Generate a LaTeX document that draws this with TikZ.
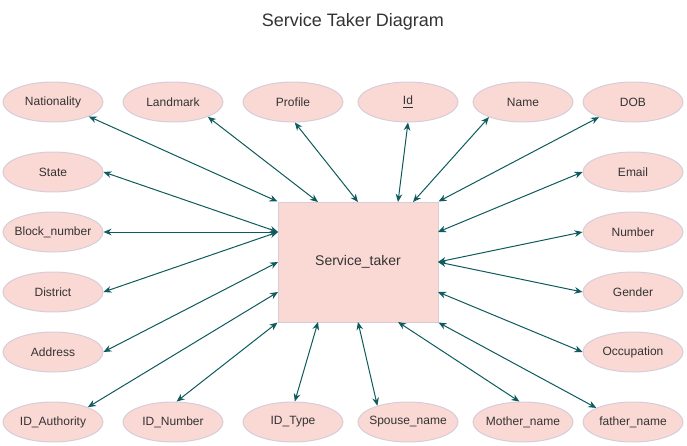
\documentclass[tikz,border=0pt]{standalone}
\usepackage{fontspec}
\setmainfont{Liberation Sans}
\usetikzlibrary{shapes.geometric,arrows.meta}
\definecolor{attrfill}{HTML}{FAD9D5}
\definecolor{attrline}{HTML}{D6CDD8}
\definecolor{conn}{HTML}{0E5A5C}
\definecolor{txt}{HTML}{333333}
\begin{document}
\begin{tikzpicture}[x=0.75pt,y=-0.75pt,
  attr/.style={ellipse, draw=attrline, fill=attrfill, line width=0.75pt,
    minimum width=75pt, minimum height=30pt, inner sep=0pt,
    font=\fontsize{9}{11}\selectfont, text=txt,
    execute at begin node={\hbox to 0pt\bgroup\hss},
    execute at end node={\hss\egroup}},
  entity/.style={rectangle, draw=attrline, fill=attrfill, line width=0.75pt,
    minimum width=120pt, minimum height=90pt, inner sep=0pt,
    font=\fontsize{10.5}{12}\selectfont, text=txt},
  link/.style={draw=conn, line width=0.75pt,
    {Stealth[length=6pt,width=5pt]}-{Stealth[length=6pt,width=5pt]}},
  titletext/.style={font=\fontsize{13.5}{15}\selectfont, text=txt}]
\useasboundingbox (0,0) rectangle (687,446);

\node[titletext] (title) at (353,22) {Service Taker Diagram};

\node[entity] (st) at (358,262) {Service\_taker};

% top row
\node[attr] (nat) at (53,102) {Nationality};
\node[attr] (land) at (173,102) {Landmark};
\node[attr] (prof) at (293,102) {Profile};
\node[attr] (id) at (408,102) {\underline{Id}};
\node[attr] (name) at (523,102) {Name};
\node[attr] (dob) at (633,102) {DOB};
% left column
\node[attr] (state) at (53,172) {State};
\node[attr] (block) at (53,232) {Block\_number};
\node[attr] (dist) at (53,292) {District};
\node[attr] (addr) at (53,352) {Address};
% right column
\node[attr] (email) at (633,172) {Email};
\node[attr] (num) at (633,232) {Number};
\node[attr] (gen) at (633,292) {Gender};
\node[attr] (occ) at (633,352) {Occupation};
% bottom row
\node[attr] (idauth) at (53,422) {ID\_Authority};
\node[attr] (idnum) at (173,422) {ID\_Number};
\node[attr] (idtype) at (293,422) {ID\_Type};
\node[attr] (spouse) at (408,422) {Spouse\_name};
\node[attr] (mother) at (523,422) {Mother\_name};
\node[attr] (father) at (633,422) {father\_name};

% attachment points on the entity
\coordinate (n1) at (318,202);
\coordinate (n2) at (358,202);
\coordinate (n3) at (398,202);
\coordinate (n4) at (413,202);
\coordinate (w1) at (278,232);
\coordinate (w2) at (278,262);
\coordinate (w3) at (278,292);
\coordinate (e1) at (438,232);
\coordinate (e2) at (438,262);
\coordinate (e3) at (438,292);
\coordinate (s1) at (318,322);
\coordinate (s2) at (358,322);
\coordinate (s3) at (398,322);

\draw[link] (nat.-22) -- (st.north west);
\draw[link] (land.-23) -- (n1);
\draw[link] (prof.-85) -- (n2);
\draw[link] (id.-90) -- (n3);
\draw[link] (name.204) -- (n4);
\draw[link] (dob.204) -- (st.north east);
\draw[link] (state.0) -- (w1);
\draw[link] (block.0) -- (w1);
\draw[link] (dist.0) -- (w1);
\draw[link] (addr.0) -- (w2);
\draw[link] (idauth.23) -- (w3);
\draw[link] (idnum.80) -- (st.south west);
\draw[link] (idtype.85) -- (s1);
\draw[link] (spouse.152) -- (s2);
\draw[link] (mother.100) -- (s3);
\draw[link] (father.159) -- (st.south east);
\draw[link] (email.180) -- (e1);
\draw[link] (num.180) -- (e2);
\draw[link] (gen.180) -- (e2);
\draw[link] (occ.180) -- (e3);
\end{tikzpicture}
\end{document}
